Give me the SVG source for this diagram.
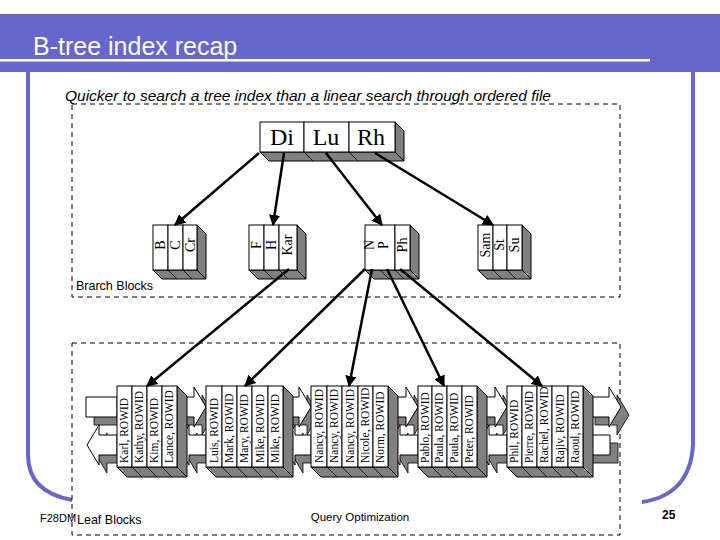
<svg xmlns="http://www.w3.org/2000/svg" width="720" height="540" viewBox="0 0 720 540">
<defs>
<style>
.cell{fill:#fff;stroke:#000;stroke-width:1}
.sh{fill:#808080;stroke:#000;stroke-width:1}
.ar{fill:#fff;stroke:#000;stroke-width:1}
.ash{fill:#808080;stroke:#000;stroke-width:0.8}
.bt{font-family:"Liberation Serif",serif;font-size:14px;fill:#000}
.lt{font-family:"Liberation Serif",serif;font-size:11.5px;fill:#000}
.rt{font-family:"Liberation Serif",serif;font-size:24px;fill:#000}
.con{stroke:#000;stroke-width:2.5;fill:none;marker-end:url(#ah)}
.hl{stroke:#000;stroke-width:0.8}
.dash{fill:none;stroke:#000;stroke-width:1;stroke-dasharray:5,4}
.sans{font-family:"Liberation Sans",Arial,sans-serif}
</style>
<marker id="ah" viewBox="0 0 10 10" refX="9" refY="5" markerWidth="4.5" markerHeight="4.5" orient="auto" markerUnits="strokeWidth">
<path d="M0,0 L10,5 L0,10 z" fill="#000"/>
</marker>
</defs>
<rect width="720" height="540" fill="#fff"/>
<rect x="0" y="14" width="720" height="58" fill="#6666cc"/>
<rect x="0" y="59" width="650" height="2.5" fill="#fff"/>
<text x="33" y="55" class="sans" font-size="25" fill="#fff">B-tree index recap</text>
<path d="M28,72 V455 Q28,492 72,500" fill="none" stroke="#6666cc" stroke-width="4"/>
<path d="M693,72 V445 Q690,495 642,502" fill="none" stroke="#6666cc" stroke-width="4"/>
<text x="65" y="101" class="sans" font-size="15.5" font-style="italic">Quicker to search a tree index than a linear search through ordered file</text>
<rect x="72" y="104" width="548" height="193" class="dash"/>
<rect x="72" y="343" width="548" height="192" class="dash"/>
<text x="76" y="290" class="sans" font-size="12.5">Brarch Blocks</text>

<g id="root">
<polygon class="sh" points="395,122 404,131 404,161 395,152"/>
<polygon class="sh" points="260,152 395,152 404,161 269,161"/>
<line class="hl" x1="304" y1="152" x2="313" y2="161"/><line class="hl" x1="349" y1="152" x2="358" y2="161"/>
<rect class="cell" x="260" y="122" width="44" height="30"/><rect class="cell" x="304" y="122" width="45" height="30"/><rect class="cell" x="349" y="122" width="46" height="30"/>
<text class="rt" x="282" y="145" text-anchor="middle">Di</text><text class="rt" x="326" y="145" text-anchor="middle">Lu</text><text class="rt" x="371" y="145" text-anchor="middle">Rh</text>
</g>

<g id="branch1">
<polygon class="sh" points="197,225 206,234 206,279 197,270"/>
<polygon class="sh" points="153,270 197,270 206,279 162,279"/>
<line class="hl" x1="168" y1="270" x2="177" y2="279"/><line class="hl" x1="183" y1="270" x2="192" y2="279"/>
<rect class="cell" x="153" y="225" width="15" height="45"/><rect class="cell" x="168" y="225" width="15" height="45"/><rect class="cell" x="183" y="225" width="14" height="45"/>
<text class="bt" transform="translate(165,245) rotate(-90)" text-anchor="middle">B</text>
<text class="bt" transform="translate(180,245) rotate(-90)" text-anchor="middle">C</text>
<text class="bt" transform="translate(195,245) rotate(-90)" text-anchor="middle">Cr</text>
</g>
<g id="branch2">
<polygon class="sh" points="297,225 306,234 306,279 297,270"/>
<polygon class="sh" points="249,270 297,270 306,279 258,279"/>
<line class="hl" x1="264" y1="270" x2="273" y2="279"/><line class="hl" x1="279" y1="270" x2="288" y2="279"/>
<rect class="cell" x="249" y="225" width="15" height="45"/><rect class="cell" x="264" y="225" width="15" height="45"/><rect class="cell" x="279" y="225" width="18" height="45"/>
<text class="bt" transform="translate(261,245) rotate(-90)" text-anchor="middle">F</text>
<text class="bt" transform="translate(276,245) rotate(-90)" text-anchor="middle">H</text>
<text class="bt" transform="translate(292,245) rotate(-90)" text-anchor="middle">Kar</text>
</g>
<g id="branch3">
<polygon class="sh" points="410,225 419,234 419,279 410,270"/>
<polygon class="sh" points="365,270 410,270 419,279 374,279"/>
<line class="hl" x1="380" y1="270" x2="389" y2="279"/><line class="hl" x1="395" y1="270" x2="404" y2="279"/>
<rect class="cell" x="365" y="225" width="30" height="45"/><rect class="cell" x="395" y="225" width="15" height="45"/>
<text class="bt" transform="translate(374,245) rotate(-90)" text-anchor="middle">N</text>
<text class="bt" transform="translate(388,245) rotate(-90)" text-anchor="middle">P</text>
<text class="bt" transform="translate(407,245) rotate(-90)" text-anchor="middle">Ph</text>
</g>
<g id="branch4">
<polygon class="sh" points="522,225 531,234 531,279 522,270"/>
<polygon class="sh" points="478,270 522,270 531,279 487,279"/>
<line class="hl" x1="493" y1="270" x2="502" y2="279"/><line class="hl" x1="507" y1="270" x2="516" y2="279"/>
<rect class="cell" x="478" y="225" width="15" height="45"/><rect class="cell" x="493" y="225" width="14" height="45"/><rect class="cell" x="507" y="225" width="15" height="45"/>
<text class="bt" transform="translate(490,245) rotate(-90)" text-anchor="middle">Sam</text>
<text class="bt" transform="translate(504,245) rotate(-90)" text-anchor="middle">St</text>
<text class="bt" transform="translate(519,245) rotate(-90)" text-anchor="middle">Su</text>
</g>

<g id="links">
<polygon class="ash" points="94,405 125,405 125,425 94,425"/>
<polygon class="ar" points="86,397 117,397 117,417 86,417"/>
<polygon class="ash" points="125,443 107,443 107,433 95,453 107,473 107,463 125,463"/>
<polygon class="ar" points="117,435 99,435 99,425 87,445 99,465 99,455 117,455"/>
<g id="gap1">
<polygon class="ash" points="185,405 202,405 202,395 214,415 202,435 202,425 185,425"/>
<polygon class="ar" points="177,397 194,397 194,387 206,407 194,427 194,417 177,417"/>
<polygon class="ash" points="214,443 197,443 197,433 185,453 197,473 197,463 214,463"/>
<polygon class="ar" points="206,435 189,435 189,425 177,445 189,465 189,455 206,455"/>
</g>
<g id="gap2">
<polygon class="ash" points="291,405 307,405 307,395 319,415 307,435 307,425 291,425"/>
<polygon class="ar" points="283,397 299,397 299,387 311,407 299,427 299,417 283,417"/>
<polygon class="ash" points="319,443 303,443 303,433 291,453 303,473 303,463 319,463"/>
<polygon class="ar" points="311,435 295,435 295,425 283,445 295,465 295,455 311,455"/>
</g>
<g id="gap3">
<polygon class="ash" points="396,405 414,405 414,395 426,415 414,435 414,425 396,425"/>
<polygon class="ar" points="388,397 406,397 406,387 418,407 406,427 406,417 388,417"/>
<polygon class="ash" points="426,443 408,443 408,433 396,453 408,473 408,463 426,463"/>
<polygon class="ar" points="418,435 400,435 400,425 388,445 400,465 400,455 418,455"/>
</g>
<g id="gap4">
<polygon class="ash" points="485,405 503,405 503,395 515,415 503,435 503,425 485,425"/>
<polygon class="ar" points="477,397 495,397 495,387 507,407 495,427 495,417 477,417"/>
<polygon class="ash" points="515,443 497,443 497,433 485,453 497,473 497,463 515,463"/>
<polygon class="ar" points="507,435 489,435 489,425 477,445 489,465 489,455 507,455"/>
</g>
<polygon class="ash" points="595,405 617,405 617,395 629,415 617,435 617,425 595,425"/>
<polygon class="ar" points="587,397 609,397 609,387 621,407 609,427 609,417 587,417"/>
<polygon class="ash" points="618,443 591,443 591,463 618,463"/>
<polygon class="ar" points="610,435 583,435 583,455 610,455"/>
</g>

<g id="leaf1">
<polygon class="sh" points="177,386 187,396 187,477 177,467"/>
<polygon class="sh" points="117,467 177,467 187,477 127,477"/>
<line class="hl" x1="132" y1="467" x2="142" y2="477"/><line class="hl" x1="147" y1="467" x2="157" y2="477"/><line class="hl" x1="162" y1="467" x2="172" y2="477"/>
<rect class="cell" x="117" y="386" width="15" height="81"/><rect class="cell" x="132" y="386" width="15" height="81"/><rect class="cell" x="147" y="386" width="15" height="81"/><rect class="cell" x="162" y="386" width="15" height="81"/>
<text class="lt" transform="translate(128,463) rotate(-90)">Karl, ROWID</text>
<text class="lt" transform="translate(143,463) rotate(-90)">Kathy, ROWID</text>
<text class="lt" transform="translate(158,463) rotate(-90)">Kim, ROWID</text>
<text class="lt" transform="translate(173,463) rotate(-90)">Lance, ROWID</text>
</g>
<g id="leaf2">
<polygon class="sh" points="283,386 293,396 293,477 283,467"/>
<polygon class="sh" points="206,467 283,467 293,477 216,477"/>
<line class="hl" x1="222" y1="467" x2="232" y2="477"/><line class="hl" x1="237" y1="467" x2="247" y2="477"/><line class="hl" x1="252" y1="467" x2="262" y2="477"/><line class="hl" x1="268" y1="467" x2="278" y2="477"/>
<rect class="cell" x="206" y="386" width="16" height="81"/><rect class="cell" x="222" y="386" width="15" height="81"/><rect class="cell" x="237" y="386" width="15" height="81"/><rect class="cell" x="252" y="386" width="16" height="81"/><rect class="cell" x="268" y="386" width="15" height="81"/>
<text class="lt" transform="translate(218,463) rotate(-90)">Luis, ROWID</text>
<text class="lt" transform="translate(233,463) rotate(-90)">Mark, ROWID</text>
<text class="lt" transform="translate(248,463) rotate(-90)">Mary, ROWID</text>
<text class="lt" transform="translate(264,463) rotate(-90)">Mike, ROWID</text>
<text class="lt" transform="translate(279,463) rotate(-90)">Mike, ROWID</text>
</g>
<g id="leaf3">
<polygon class="sh" points="388,386 398,396 398,477 388,467"/>
<polygon class="sh" points="311,467 388,467 398,477 321,477"/>
<line class="hl" x1="327" y1="467" x2="337" y2="477"/><line class="hl" x1="342" y1="467" x2="352" y2="477"/><line class="hl" x1="358" y1="467" x2="368" y2="477"/><line class="hl" x1="373" y1="467" x2="383" y2="477"/>
<rect class="cell" x="311" y="386" width="16" height="81"/><rect class="cell" x="327" y="386" width="15" height="81"/><rect class="cell" x="342" y="386" width="16" height="81"/><rect class="cell" x="358" y="386" width="15" height="81"/><rect class="cell" x="373" y="386" width="15" height="81"/>
<text class="lt" transform="translate(323,463) rotate(-90)">Nancy, ROWID</text>
<text class="lt" transform="translate(338,463) rotate(-90)">Nancy, ROWID</text>
<text class="lt" transform="translate(354,463) rotate(-90)">Nancy, ROWID</text>
<text class="lt" transform="translate(369,463) rotate(-90)">Nicole, ROWID</text>
<text class="lt" transform="translate(384,463) rotate(-90)">Norm, ROWID</text>
</g>
<g id="leaf4">
<polygon class="sh" points="477,386 487,396 487,477 477,467"/>
<polygon class="sh" points="418,467 477,467 487,477 428,477"/>
<line class="hl" x1="432" y1="467" x2="442" y2="477"/><line class="hl" x1="447" y1="467" x2="457" y2="477"/><line class="hl" x1="462" y1="467" x2="472" y2="477"/>
<rect class="cell" x="418" y="386" width="14" height="81"/><rect class="cell" x="432" y="386" width="15" height="81"/><rect class="cell" x="447" y="386" width="15" height="81"/><rect class="cell" x="462" y="386" width="15" height="81"/>
<text class="lt" transform="translate(429,463) rotate(-90)">Pablo, ROWID</text>
<text class="lt" transform="translate(443,463) rotate(-90)">Paula, ROWID</text>
<text class="lt" transform="translate(458,463) rotate(-90)">Paula, ROWID</text>
<text class="lt" transform="translate(473,463) rotate(-90)">Peter, ROWID</text>
</g>
<g id="leaf5">
<polygon class="sh" points="583,386 593,396 593,477 583,467"/>
<polygon class="sh" points="507,467 583,467 593,477 517,477"/>
<line class="hl" x1="522" y1="467" x2="532" y2="477"/><line class="hl" x1="537" y1="467" x2="547" y2="477"/><line class="hl" x1="552" y1="467" x2="562" y2="477"/><line class="hl" x1="568" y1="467" x2="578" y2="477"/>
<rect class="cell" x="507" y="386" width="15" height="81"/><rect class="cell" x="522" y="386" width="15" height="81"/><rect class="cell" x="537" y="386" width="15" height="81"/><rect class="cell" x="552" y="386" width="16" height="81"/><rect class="cell" x="568" y="386" width="15" height="81"/>
<text class="lt" transform="translate(518,463) rotate(-90)">Phil, ROWID</text>
<text class="lt" transform="translate(533,463) rotate(-90)">Pierre, ROWID</text>
<text class="lt" transform="translate(548,463) rotate(-90)">Rachel, ROWID</text>
<text class="lt" transform="translate(564,463) rotate(-90)">Rajiv, ROWID</text>
<text class="lt" transform="translate(579,463) rotate(-90)">Raoul, ROWID</text>
</g>

<g id="connectors">
<line class="con" x1="259" y1="153" x2="175" y2="225"/>
<line class="con" x1="284" y1="153" x2="273" y2="225"/>
<line class="con" x1="326" y1="153" x2="382" y2="225"/>
<line class="con" x1="375" y1="153" x2="493" y2="225"/>
<line class="con" x1="289" y1="269" x2="147" y2="386"/>
<line class="con" x1="365" y1="269" x2="245" y2="386"/>
<line class="con" x1="372" y1="269" x2="349" y2="386"/>
<line class="con" x1="387" y1="269" x2="444" y2="386"/>
<line class="con" x1="400" y1="269" x2="542" y2="386"/>
</g>

<text x="40" y="522" class="sans" font-size="11">F28DM</text>
<text x="77" y="524" class="sans" font-size="12.5">Leaf Blocks</text>
<text x="360" y="521" class="sans" font-size="11.5" text-anchor="middle">Query Optimization</text>
<text x="662" y="519" class="sans" font-size="12" font-weight="bold">25</text>
</svg>
